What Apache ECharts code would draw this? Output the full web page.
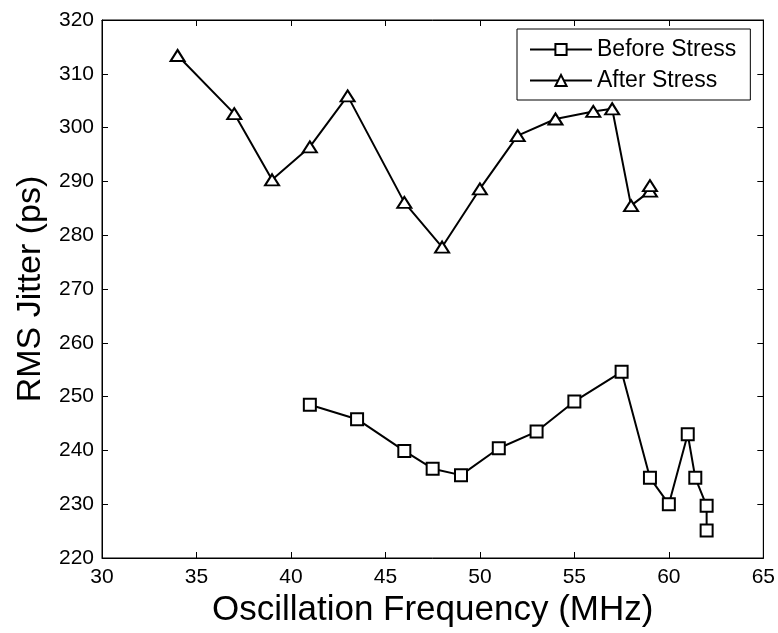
<!DOCTYPE html>
<html>
<head>
<meta charset="utf-8">
<script src="https://cdn.jsdelivr.net/npm/echarts@6/dist/echarts.min.js"></script>
<style>
  html, body { margin: 0; padding: 0; background: #fff; }
  #chart { width: 778px; height: 633px; }
</style>
</head>
<body>
<div id="chart"></div>
<script>
// Oscillation frequency (MHz) and RMS jitter (ps) per measurement
const beforeFreq   = [41, 43.5, 46, 47.5, 49, 51, 53, 55, 57.5, 59, 60, 61, 61.4, 62, 62];
const beforeJitter = [248.5, 245.8, 239.9, 236.6, 235.4, 240.4, 243.5, 249.1, 254.6, 234.9, 230.0, 243.0, 234.9, 229.7, 225.1];

const afterFreq   = [34, 37, 39, 41, 43, 46, 48, 50, 52, 54, 56, 57, 58, 59, 59];
const afterJitter = [313.4, 302.6, 290.3, 296.4, 305.9, 286.1, 277.8, 288.6, 298.5, 301.6, 303.0, 303.5, 285.5, 288.2, 289.2];

const xTicks = { min: 30, max: 65, interval: 5 };
const yTicks = { min: 220, max: 320, interval: 10 };

const font = '"Liberation Sans", Arial, sans-serif';

function pairs(xs, ys) {
  return xs.map((x, i) => [x, ys[i]]);
}

const chart = echarts.init(document.getElementById('chart'), null, { renderer: 'canvas' });

const axisCommon = {
  axisLine: { show: true, onZero: false, lineStyle: { color: '#000', width: 1 } },
  axisTick: { show: true, inside: true, length: 6, lineStyle: { color: '#000', width: 1 } },
  splitLine: { show: false },
  axisLabel: { color: '#000', fontFamily: font, fontSize: 21 }
};

chart.setOption({
  animation: false,
  backgroundColor: '#fff',
  grid: { left: 102, right: 14, top: 20, bottom: 75, containLabel: false,
          show: true, borderColor: '#000', borderWidth: 1 },
  legend: {
    left: 517, top: 29,
    orient: 'vertical',
    backgroundColor: '#fff',
    borderColor: '#000', borderWidth: 1,
    padding: [9, 14, 8, 12],
    itemWidth: 62, itemHeight: 14, itemGap: 8,
    textStyle: { color: '#000', fontFamily: font, fontSize: 23, lineHeight: 22 },
    data: ['Before Stress', 'After Stress']
  },
  xAxis: [
    Object.assign({}, axisCommon, {
      type: 'value', min: xTicks.min, max: xTicks.max, interval: xTicks.interval,
      name: 'Oscillation Frequency (MHz)', nameLocation: 'middle', nameGap: 30,
      nameTextStyle: { color: '#000', fontFamily: font, fontSize: 35 },
      axisLabel: Object.assign({}, axisCommon.axisLabel, { margin: 9 })
    }),
    Object.assign({}, axisCommon, {
      type: 'value', position: 'top', min: xTicks.min, max: xTicks.max, interval: xTicks.interval,
      axisLabel: { show: false }
    })
  ],
  yAxis: [
    Object.assign({}, axisCommon, {
      type: 'value', min: yTicks.min, max: yTicks.max, interval: yTicks.interval,
      name: 'RMS Jitter (ps)', nameLocation: 'middle', nameGap: 51, nameRotate: 90,
      nameTextStyle: { color: '#000', fontFamily: font, fontSize: 34 },
      axisLabel: Object.assign({}, axisCommon.axisLabel, { margin: 8 })
    }),
    Object.assign({}, axisCommon, {
      type: 'value', position: 'right', min: yTicks.min, max: yTicks.max, interval: yTicks.interval,
      axisLabel: { show: false }
    })
  ],
  series: [
    {
      name: 'Before Stress',
      type: 'line',
      data: pairs(beforeFreq, beforeJitter),
      symbol: 'rect', symbolSize: 12,
      lineStyle: { color: '#000', width: 2 },
      itemStyle: { color: '#fff', borderColor: '#000', borderWidth: 2 },
      z: 3
    },
    {
      name: 'After Stress',
      type: 'line',
      data: pairs(afterFreq, afterJitter),
      symbol: 'triangle', symbolSize: [14, 11],
      lineStyle: { color: '#000', width: 2 },
      itemStyle: { color: '#fff', borderColor: '#000', borderWidth: 2 },
      z: 3
    }
  ]
});
</script>
</body>
</html>
